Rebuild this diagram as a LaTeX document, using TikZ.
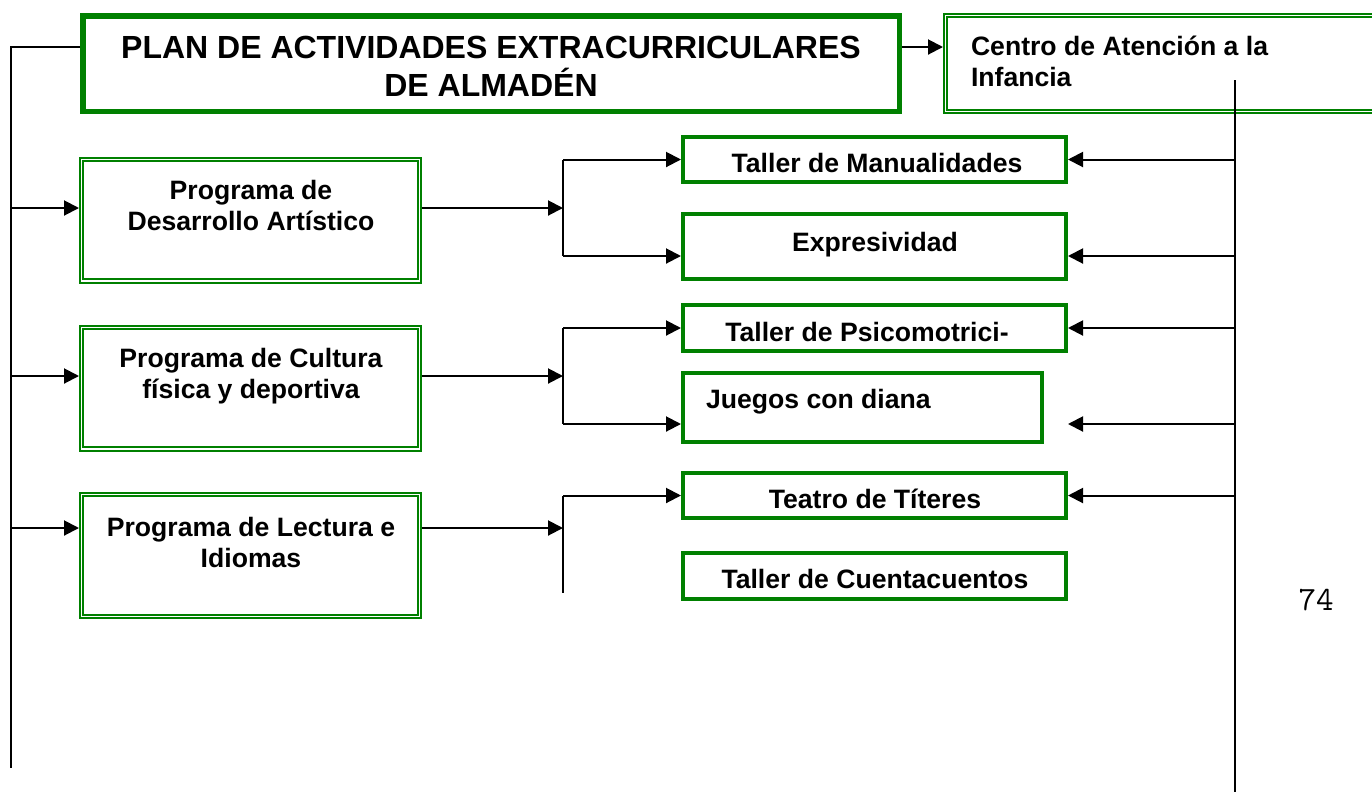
\documentclass[tikz,border=0pt]{standalone}
\usepackage{fontspec}
\setmainfont{Liberation Sans}
\usepackage{tikz}
\usetikzlibrary{positioning,arrows.meta}
\definecolor{grn}{RGB}{0,128,0}

\begin{document}
\begin{tikzpicture}[x=0.5pt,y=-0.5pt,
    line width=1pt,
    arr/.style={-{Triangle[length=7.5pt,width=7.5pt]}},
    thickbox/.style={draw=grn, line width=2.75pt, inner sep=0pt},
    dblbox/.style={draw=grn, line width=1pt, double=white, double distance=0.7pt,
        outer sep=1.35pt, inner sep=0pt, minimum width=168.8pt, minimum height=60.8pt},
    actbox/.style={draw=grn, line width=2pt, inner sep=0pt, minimum width=191.5pt},
    txt/.style={inner sep=0pt, font=\bfseries\fontsize{13.3}{15.5}\selectfont, align=center}]
    \useasboundingbox (0,0) rectangle (1372,794);

    %% title and centre
    \node[thickbox, minimum width=408.25pt, minimum height=47.75pt] (plan) at (491,63.5) {};
    \node[txt, font=\bfseries\fontsize{16}{18.75}\selectfont] (plantxt) at (491,66.5)
        {PLAN DE ACTIVIDADES EXTRACURRICULARES\\DE ALMADÉN};
    \node[dblbox, minimum width=225.8pt, minimum height=47.8pt] (centro) at (1171.5,63.5) {};
    \node[txt, align=left, anchor=west] (centrotxt) at (970,61.5) {Centro de Atención a la\\Infancia};

    %% programmes
    \node[dblbox] (artistico) at (250.5,220) {};
    \node[txt] (artisticotxt) at (251,205.5) {Programa de\\Desarrollo Artístico};
    \node[dblbox] (cultura) at (250.5,388) {};
    \node[txt] (culturatxt) at (251,376.3) {Programa de Cultura\\física y deportiva};
    \node[dblbox] (lectura) at (250.5,555.5) {};
    \node[txt] (lecturatxt) at (251,542) {Programa de Lectura e\\Idiomas};

    %% activities
    \node[actbox, minimum height=22.5pt] (manual) at (874.5,159.5) {};
    \node[txt, anchor=base] (manualtxt) at (877,172.5) {Taller de Manualidades};
    \node[actbox, minimum height=32.5pt] (expres) at (874.5,246.5) {};
    \node[txt, anchor=base] (exprestxt) at (875,251.5) {Expresividad};
    \node[actbox, minimum height=23pt] (psico) at (874.5,328) {};
    \node[txt, anchor=base] (psicotxt) at (867,341) {Taller de Psicomotrici-};
    \node[actbox, minimum width=179.5pt, minimum height=34.5pt] (diana) at (862.5,407.5) {};
    \node[txt, anchor=base west] (dianatxt) at (705,408.5) {Juegos con diana};
    \node[actbox, minimum height=22.5pt] (titeres) at (874.5,495.5) {};
    \node[txt, anchor=base] (titerestxt) at (875,508.5) {Teatro de Títeres};
    \node[actbox, minimum height=23pt] (cuentos) at (874.5,576) {};
    \node[txt, anchor=base] (cuentostxt) at (875,588.5) {Taller de Cuentacuentos};

    \node[font=\ttfamily\fontsize{17}{20}\selectfont, anchor=base, inner sep=0pt] (pagina) at (1316,610) {74};

    %% spines and joints
    \coordinate (izqa) at (11,47);
    \coordinate (izqb) at (11,768);
    \coordinate (dera) at (1235,80);
    \coordinate (derb) at (1235,792);
    \coordinate (expr) at (1235,256);
    \coordinate (dian) at (1235,424);
    \coordinate (ra) at (563,208);
    \coordinate (rb) at (563,376);
    \coordinate (rc) at (563,528);
    \coordinate (rcend) at (563,593);

    \draw (plan.west |- izqa) -- (izqa) -- (izqb);
    \draw[arr] (plan.east |- izqa) -- (centro.west |- izqa);
    \foreach \p/\j in {artistico/ra, cultura/rb, lectura/rc} {
        \draw[arr] (izqa |- \j) -- (\p.west |- \j);
        \draw[arr] (\p.east |- \j) -- (\j);
    }

    %% brackets
    \draw (ra |- manual.west) -- (ra |- expr);
    \draw[arr] (ra |- manual.west) -- (manual.west);
    \draw[arr] (ra |- expr) -- (expres.west |- expr);
    \draw (rb |- psico.west) -- (rb |- dian);
    \draw[arr] (rb |- psico.west) -- (psico.west);
    \draw[arr] (rb |- dian) -- (diana.west |- dian);
    \draw (rc |- titeres.west) -- (rcend);
    \draw[arr] (rc |- titeres.west) -- (titeres.west);

    %% right spine
    \draw (dera) -- (derb);
    \draw[arr] (dera |- manual.east) -- (manual.east);
    \draw[arr] (expr) -- (expres.east |- expr);
    \draw[arr] (dera |- psico.east) -- (psico.east);
    \draw[arr] (dian) -- (manual.east |- dian);
    \draw[arr] (dera |- titeres.east) -- (titeres.east);
\end{tikzpicture}
\end{document}
